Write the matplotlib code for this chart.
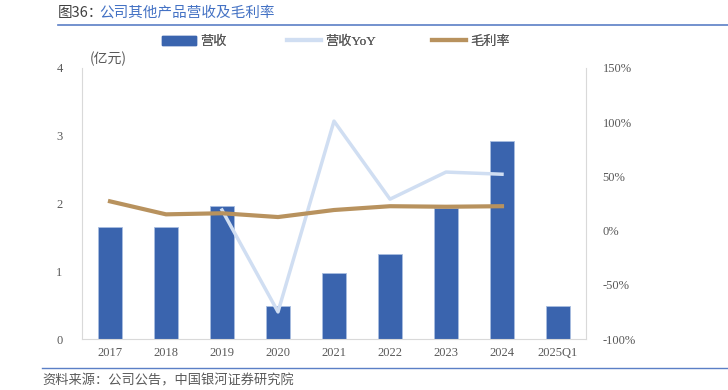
import matplotlib
matplotlib.use("Agg")
import matplotlib.pyplot as plt
from matplotlib.lines import Line2D
from matplotlib.patches import Patch

plt.rcParams['font.family'] = ['Liberation Serif', 'Noto Sans CJK SC', 'DejaVu Sans']

categories = ['2017', '2018', '2019', '2020', '2021', '2022', '2023', '2024', '2025Q1']
revenue = [1.65, 1.65, 1.96, 0.49, 0.97, 1.25, 1.93, 2.92, 0.49]
yoy = [None, None, 19, -75, 101, 29, 54, 52, None]
margin = [27, 15, 16, 12.5, 19, 22.5, 22, 22.5, None]
left_ticks = [0, 1, 2, 3, 4]
right_ticks = [-100, -50, 0, 50, 100, 150]

bar_color = '#3A64AE'
yoy_color = '#D0DEF2'
margin_color = '#B8925E'
text_gray = '#595959'

fig = plt.figure(figsize=(7.28, 3.9), dpi=100)
ax = fig.add_axes([82/728, 1-339/390, 504/728, 271/390])
x = list(range(len(categories)))
ax.bar(x, revenue, width=0.43, color=bar_color, edgecolor='#A9BEE0', linewidth=0.6, zorder=2)
ax.set_xlim(-0.5, len(categories)-0.5)
ax.set_ylim(0, 4)
ax.set_yticks(left_ticks)
ax.set_yticklabels([str(t) for t in left_ticks])
ax.set_xticks(x)
ax.set_xticklabels(categories)
ax.tick_params(axis='both', length=0, labelsize=9, colors=text_gray)
ax.tick_params(axis='y', pad=14)
ax.tick_params(axis='x', pad=6)
for s in ['top', 'right']:
    ax.spines[s].set_visible(False)
ax.spines['left'].set_color('#D9D9D9')
ax.spines['bottom'].set_color('#D9D9D9')

ax2 = ax.twinx()
ax2.set_ylim(-100, 150)
ax2.set_yticks(right_ticks)
ax2.set_yticklabels([f'{t}%' for t in right_ticks])
ax2.tick_params(axis='y', length=0, labelsize=9, colors=text_gray, pad=12)
for s in ['top', 'left', 'bottom']:
    ax2.spines[s].set_visible(False)
ax2.spines['right'].set_color('#D9D9D9')

yx = [i for i, v in zip(x, yoy) if v is not None]
yv = [v for v in yoy if v is not None]
ax2.plot(yx, yv, color=yoy_color, linewidth=2.5, zorder=3)
mx = [i for i, v in zip(x, margin) if v is not None]
mv = [v for v in margin if v is not None]
ax2.plot(mx, mv, color=margin_color, linewidth=3, zorder=4)

# unit label
fig.text(90/728, 1-59/390, '(亿元)', fontsize=10, color=text_gray, va='center', ha='left',
         family=['Noto Sans CJK SC'])

# title
fig.text(58/728, 1-13/390, '图36：', fontsize=10.5, color='#404040', va='center', ha='left',
         family=['Noto Sans CJK SC'])
fig.text(99/728, 1-13/390, '公司其他产品营收及毛利率', fontsize=10.5, color='#4472C4', va='center', ha='left',
         family=['Noto Sans CJK SC'])
fig.add_artist(Line2D([58/728, 1.0], [1-25/390, 1-25/390], color='#5B7FC6', linewidth=1.2))
fig.add_artist(Line2D([42/728, 1.0], [1-368/390, 1-368/390], color='#5B7FC6', linewidth=1.0))
fig.text(42/728, 1-381/390, '资料来源：公司公告，中国银河证券研究院', fontsize=9.5, color=text_gray,
         va='center', ha='left', style='italic', family=['Noto Sans CJK SC'])

legend_items = [
    (Patch(facecolor=bar_color, edgecolor=bar_color), '营收', 162),
    (Line2D([], [], color=yoy_color, linewidth=3), '营收YoY', 287),
    (Line2D([], [], color=margin_color, linewidth=3), '毛利率', 432),
]
for h, lab, px in legend_items:
    leg = fig.legend([h], [lab], loc='center left', bbox_to_anchor=(px/728, 1-42/390),
                     frameon=False, handlelength=2.6, handleheight=0.7,
                     handletextpad=0.3, borderpad=0, borderaxespad=0, labelcolor=text_gray,
                     prop={'family': ['Liberation Serif', 'Noto Sans CJK SC'], 'size': 9.5})
    fig.add_artist(leg)

fig.savefig('out.png', dpi=100)
